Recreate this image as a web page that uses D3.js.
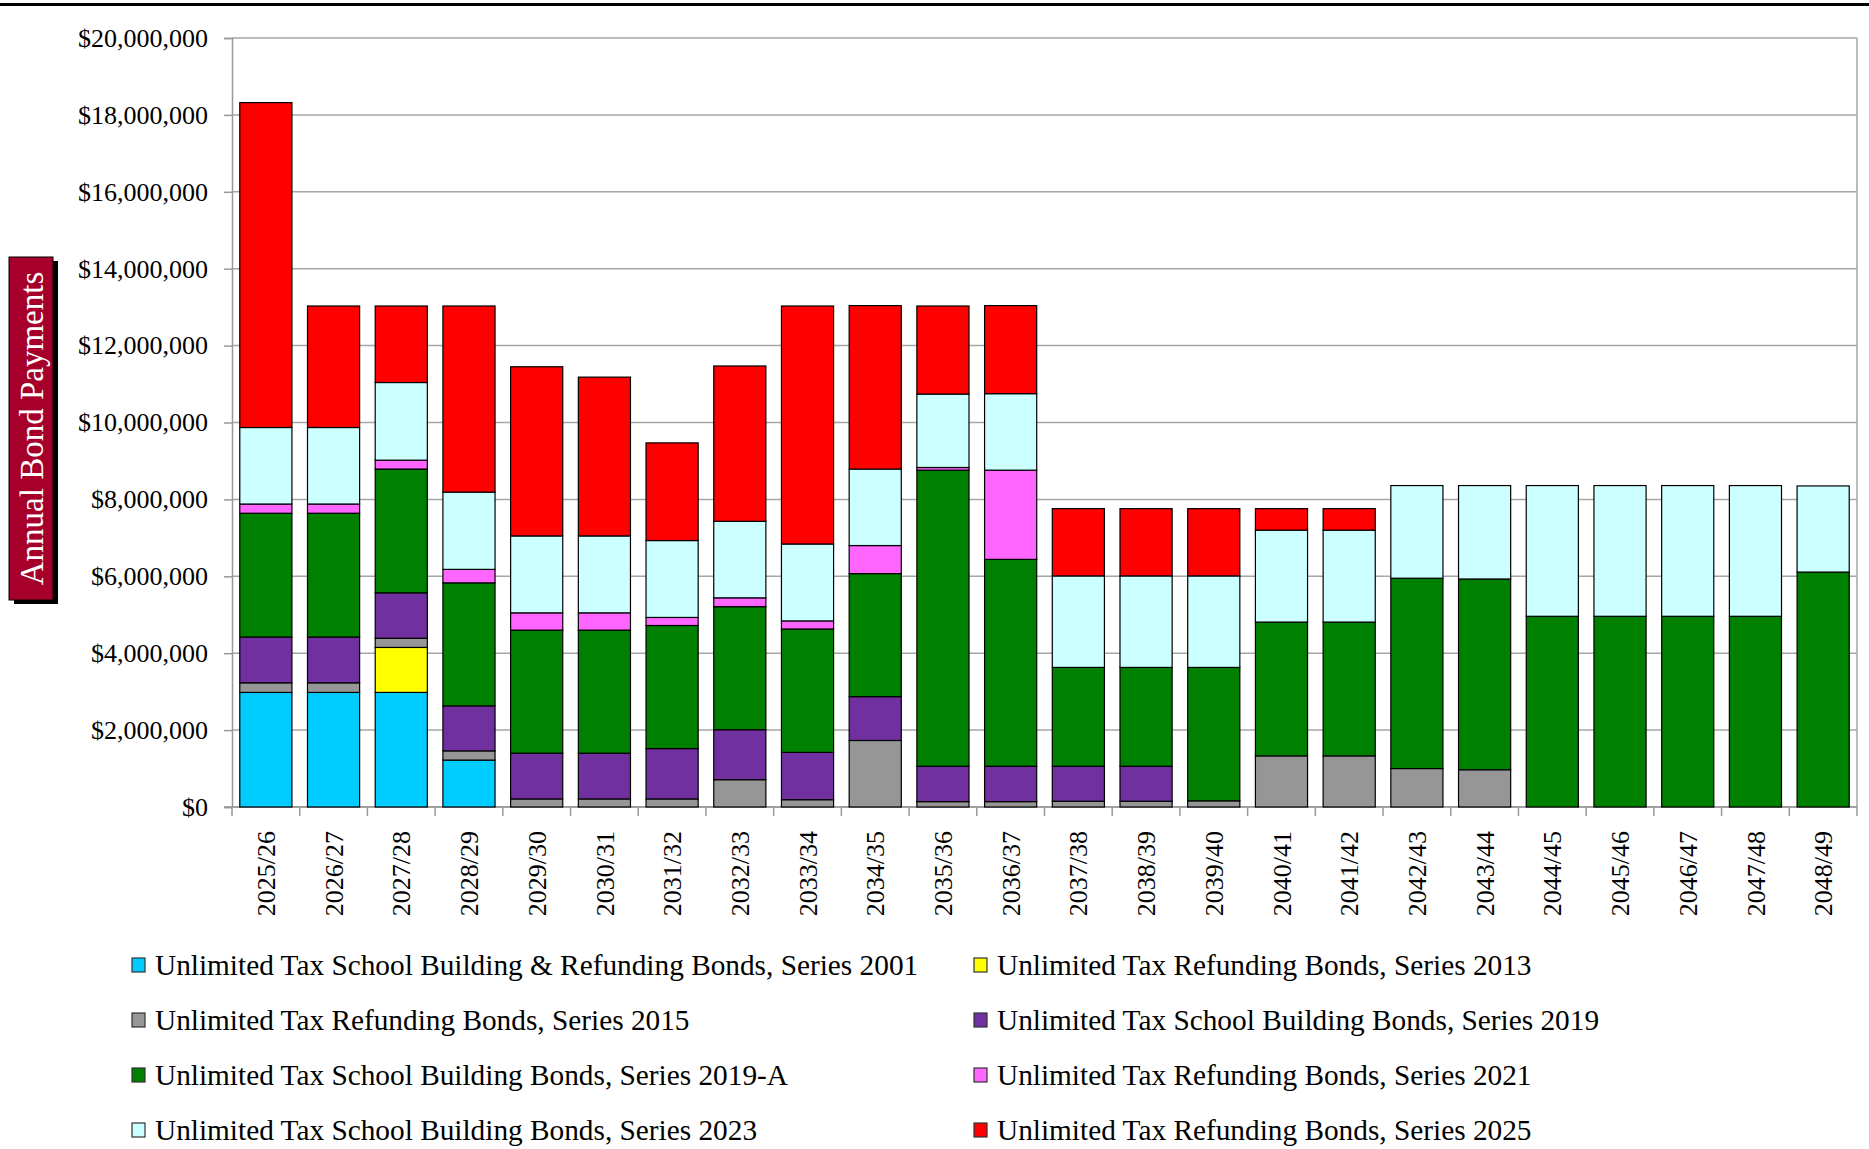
<!DOCTYPE html>
<html>
<head>
<meta charset="utf-8">
<script src="https://cdn.jsdelivr.net/npm/d3@7"></script>
<style>
  body { margin: 0; background: #fff; }
  svg { display: block; }
  text { font-family: "Liberation Serif", "DejaVu Serif", serif; fill: #000; }
</style>
</head>
<body>
<div id="chart"></div>
<script>
// fiscal years on the x axis
const years = ["2025/26", "2026/27", "2027/28", "2028/29", "2029/30", "2030/31", "2031/32", "2032/33",
  "2033/34", "2034/35", "2035/36", "2036/37", "2037/38", "2038/39", "2039/40", "2040/41",
  "2041/42", "2042/43", "2043/44", "2044/45", "2045/46", "2046/47", "2047/48", "2048/49"];

// bond series, stacked bottom to top
const seriesNames = [
  "Unlimited Tax School Building & Refunding Bonds, Series 2001",
  "Unlimited Tax Refunding Bonds, Series 2013",
  "Unlimited Tax Refunding Bonds, Series 2015",
  "Unlimited Tax School Building Bonds, Series 2019",
  "Unlimited Tax School Building Bonds, Series 2019-A",
  "Unlimited Tax Refunding Bonds, Series 2021",
  "Unlimited Tax School Building Bonds, Series 2023",
  "Unlimited Tax Refunding Bonds, Series 2025"
];
const seriesColors = ["#00ccff", "#ffff00", "#969696", "#7030a0", "#008000", "#ff66ff", "#ccffff", "#ff0000"];

// annual payments per series (dollars), one value per year
const s2001 = [2980000, 2980000, 2980000, 1220000, 0, 0, 0, 0, 0, 0, 0, 0, 0, 0, 0, 0, 0, 0, 0, 0, 0, 0, 0, 0];
const s2013 = [0, 0, 1170000, 0, 0, 0, 0, 0, 0, 0, 0, 0, 0, 0, 0, 0, 0, 0, 0, 0, 0, 0, 0, 0];
const s2015 = [250000, 250000, 240000, 240000, 210000, 210000, 210000, 710000, 190000, 1730000, 140000, 140000,
  150000, 150000, 160000, 1330000, 1330000, 1000000, 970000, 0, 0, 0, 0, 0];
const s2019 = [1190000, 1190000, 1180000, 1170000, 1190000, 1190000, 1310000, 1300000, 1230000, 1140000, 920000, 920000,
  910000, 910000, 0, 0, 0, 0, 0, 0, 0, 0, 0, 0];
const s2019A = [3220000, 3220000, 3220000, 3200000, 3200000, 3200000, 3200000, 3200000, 3210000, 3200000, 7700000, 5380000,
  2570000, 2570000, 3470000, 3480000, 3480000, 4950000, 4960000, 4960000, 4960000, 4960000, 4960000, 6110000];
const s2021 = [240000, 240000, 230000, 350000, 450000, 450000, 210000, 230000, 210000, 730000, 70000, 2320000,
  0, 0, 0, 0, 0, 0, 0, 0, 0, 0, 0, 0];
const s2023 = [1990000, 1990000, 2020000, 2010000, 2000000, 2000000, 2000000, 1990000, 2000000, 1990000, 1910000, 1990000,
  2380000, 2380000, 2380000, 2390000, 2390000, 2410000, 2430000, 3400000, 3400000, 3400000, 3400000, 2240000];
const s2025 = [8450000, 3160000, 1990000, 4840000, 4400000, 4130000, 2540000, 4040000, 6190000, 4250000, 2290000, 2290000,
  1750000, 1750000, 1750000, 560000, 560000, 0, 0, 0, 0, 0, 0, 0];

const seriesValues = [s2001, s2013, s2015, s2019, s2019A, s2021, s2023, s2025];
const yTicks = [0, 2000000, 4000000, 6000000, 8000000, 10000000, 12000000, 14000000, 16000000, 18000000, 20000000];

const width = 1869, height = 1149;
const margin = { top: 38, right: 12, bottom: 342, left: 232 };

const svg = d3.select("#chart").append("svg")
  .attr("width", width)
  .attr("height", height);

// black rule across the top of the page
svg.append("line")
  .attr("x1", 0).attr("x2", width)
  .attr("y1", 4.5).attr("y2", 4.5)
  .attr("stroke", "#000")
  .attr("stroke-width", 3);

const x = d3.scaleBand()
  .domain(years)
  .range([margin.left, width - margin.right])
  .paddingInner(0.23)
  .paddingOuter(0.115);

const y = d3.scaleLinear()
  .domain([0, 20000000])
  .range([height - margin.bottom, margin.top]);

// build rows for the stack
const rows = years.map((yr, i) => {
  const row = { year: yr };
  seriesNames.forEach((name, j) => { row[name] = seriesValues[j][i]; });
  return row;
});
const stacked = d3.stack().keys(seriesNames)(rows);

// gridlines
svg.append("g")
  .selectAll("line")
  .data(yTicks)
  .join("line")
    .attr("x1", margin.left)
    .attr("x2", width - margin.right)
    .attr("y1", d => y(d))
    .attr("y2", d => y(d))
    .attr("stroke", "#a6a6a6")
    .attr("stroke-width", 1.5);

// right border of plot
svg.append("line")
  .attr("x1", width - margin.right).attr("x2", width - margin.right)
  .attr("y1", y(20000000)).attr("y2", y(0))
  .attr("stroke", "#a6a6a6")
  .attr("stroke-width", 1.5);

// y axis
const fmt = d3.format(",");
const yAxis = svg.append("g")
  .attr("transform", `translate(${margin.left},0)`)
  .call(d3.axisLeft(y).tickValues(yTicks).tickSize(8).tickPadding(16).tickFormat(d => "$" + fmt(d)));
yAxis.selectAll("path, line").attr("stroke", "#999").attr("stroke-width", 1.5);
yAxis.selectAll("text")
  .attr("font-family", "Liberation Serif, serif")
  .attr("font-size", 26)
  .attr("fill", "#000");

// x axis baseline and boundary ticks
const step = x.step();
const bounds = d3.range(years.length + 1).map(i => margin.left + i * step);
svg.append("line")
  .attr("x1", margin.left - 8).attr("x2", width - margin.right)
  .attr("y1", y(0)).attr("y2", y(0))
  .attr("stroke", "#999")
  .attr("stroke-width", 1.5);
svg.append("g")
  .selectAll("line")
  .data(bounds)
  .join("line")
    .attr("x1", d => d).attr("x2", d => d)
    .attr("y1", y(0)).attr("y2", y(0) + 9)
    .attr("stroke", "#999")
    .attr("stroke-width", 1.5);

// stacked bars
svg.append("g")
  .selectAll("g")
  .data(stacked)
  .join("g")
    .attr("fill", (d, i) => seriesColors[i])
  .selectAll("rect")
  .data(d => d.filter(s => s[1] - s[0] > 0))
  .join("rect")
    .attr("x", d => x(d.data.year))
    .attr("width", x.bandwidth())
    .attr("y", d => y(d[1]))
    .attr("height", d => y(d[0]) - y(d[1]))
    .attr("stroke", "#000")
    .attr("stroke-width", 1.2);

// rotated year labels
svg.append("g")
  .selectAll("text")
  .data(years)
  .join("text")
    .attr("transform", d => `translate(${x(d) + x.bandwidth() / 2},${y(0) + 24}) rotate(-90)`)
    .attr("text-anchor", "end")
    .attr("dy", "0.35em")
    .attr("font-size", 26)
    .text(d => d);

// y axis title in a shaded box
const boxX = 9, boxY = 257, boxW = 44, boxH = 343;
svg.append("rect")
  .attr("x", boxX + 5).attr("y", boxY + 4)
  .attr("width", boxW).attr("height", boxH)
  .attr("fill", "#000");
svg.append("rect")
  .attr("x", boxX).attr("y", boxY)
  .attr("width", boxW).attr("height", boxH)
  .attr("fill", "#a6002a")
  .attr("stroke", "#000")
  .attr("stroke-width", 1);
svg.append("text")
  .attr("transform", `translate(${boxX + boxW / 2},${boxY + boxH / 2}) rotate(-90)`)
  .attr("text-anchor", "middle")
  .attr("dy", "0.35em")
  .attr("font-size", 33)
  .style("fill", "#fff")
  .text("Annual Bond Payments");

// legend, two columns
const legendCols = [132, 974];
const legendRows = [965, 1020, 1075, 1130];
const legend = svg.append("g")
  .selectAll("g")
  .data(seriesNames)
  .join("g")
    .attr("transform", (d, i) => `translate(${legendCols[i % 2]},${legendRows[Math.floor(i / 2)]})`);
legend.append("rect")
  .attr("x", 0).attr("y", -7)
  .attr("width", 13).attr("height", 14)
  .attr("fill", (d, i) => seriesColors[i])
  .attr("stroke", "#333")
  .attr("stroke-width", 1.2);
legend.append("text")
  .attr("x", 23)
  .attr("dy", "0.35em")
  .attr("font-size", 29.3)
  .text(d => d);
</script>
</body>
</html>
